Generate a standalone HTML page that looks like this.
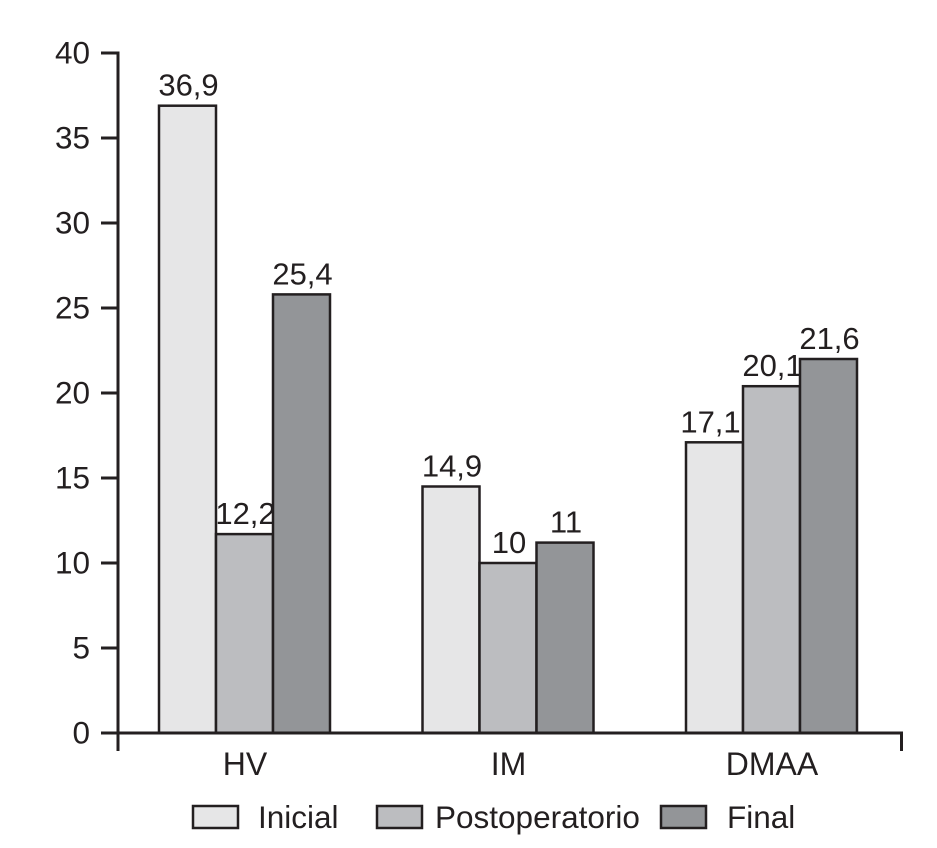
<!DOCTYPE html>
<html lang="es">
<head>
<meta charset="utf-8">
<title>Chart</title>
<style>
html,body{margin:0;padding:0;background:#fff;width:937px;height:848px;overflow:hidden}
svg{display:block}
text{font-family:"Liberation Sans",sans-serif;fill:#231f20;font-size:31.5px}
text.value{font-size:31px}
text.cat{font-size:32px}
</style>
</head>
<body>
<svg id="chart" width="937" height="848" viewBox="0 0 937 848" xmlns="http://www.w3.org/2000/svg"></svg>
<script>
const categories = ["HV", "IM", "DMAA"];
const seriesNames = ["Inicial", "Postoperatorio", "Final"];
const inicialValues = [36.9, 14.5, 17.1];
const postoperatorioValues = [11.7, 10, 20.4];
const finalValues = [25.8, 11.2, 22];
const inicialLabels = ["36,9", "14,9", "17,1"];
const postoperatorioLabels = ["12,2", "10", "20,1"];
const finalLabels = ["25,4", "11", "21,6"];
const yTicks = [0, 5, 10, 15, 20, 25, 30, 35, 40];

const svg = document.getElementById('chart');
const NS = 'http://www.w3.org/2000/svg';
const INK = '#231f20';
const fills = ['#e6e6e7', '#bcbdc0', '#939598'];
const seriesValues = [inicialValues, postoperatorioValues, finalValues];
const seriesLabels = [inicialLabels, postoperatorioLabels, finalLabels];

function yScale(v) { return 733 - v * 17; }
function groupCenter(i) { return 244.5 + i * 263.5; }
const barW = 57;

function make(tag, attrs, parent) {
  const el = document.createElementNS(NS, tag);
  for (const k in attrs) el.setAttribute(k, attrs[k]);
  (parent || svg).appendChild(el);
  return el;
}

// bars
seriesValues.forEach(function (vals, s) {
  vals.forEach(function (v, c) {
    const x = groupCenter(c) - 1.5 * barW + s * barW;
    const bar = make('rect', { x: x, y: yScale(v), width: barW, height: yScale(0) - yScale(v), fill: fills[s], stroke: INK, 'stroke-width': 2.5 });
    
    
    const nudge = (s === 0 && c === 2) ? -4 : 1;
    const lab = make('text', { x: x + barW / 2 + nudge, y: yScale(v) - 10, 'text-anchor': 'middle', 'class': 'value' });
    lab.textContent = seriesLabels[s][c];
    
    
  });
});

// y axis
const yAxis = make('line', { x1: 118, x2: 118, y1: yScale(40) - 1.5, y2: 751, stroke: INK, 'stroke-width': 3 });


yTicks.forEach(function (t) {
  const tick = make('line', { x1: 101, x2: 118, y1: yScale(t), y2: yScale(t), stroke: INK, 'stroke-width': 3 });
  
  
  const lab = make('text', { x: 90, y: yScale(t) + 10.5, 'text-anchor': 'end' });
  lab.textContent = t;
  
  
});

// x axis
const xAxis = make('line', { x1: 101, x2: 902, y1: yScale(0), y2: yScale(0), stroke: INK, 'stroke-width': 3 });


const xEnd = make('line', { x1: 901.5, x2: 901.5, y1: yScale(0) - 1.5, y2: 751, stroke: INK, 'stroke-width': 3 });


categories.forEach(function (c, i) {
  const lab = make('text', { x: groupCenter(i) + 0.5, y: 775, 'text-anchor': 'middle', 'class': 'cat' });
  lab.textContent = c;
  
  
});

// legend
const legendSwatchX = [193, 377, 661];
const legendTextX = [258, 435, 727];
seriesNames.forEach(function (n, s) {
  const sw = make('rect', { x: legendSwatchX[s], y: 806, width: 45, height: 22, fill: fills[s], stroke: INK, 'stroke-width': 2.5 });
  
  
  const lab = make('text', { x: legendTextX[s], y: 828 });
  lab.textContent = n;
  
  
});
</script>
</body>
</html>
